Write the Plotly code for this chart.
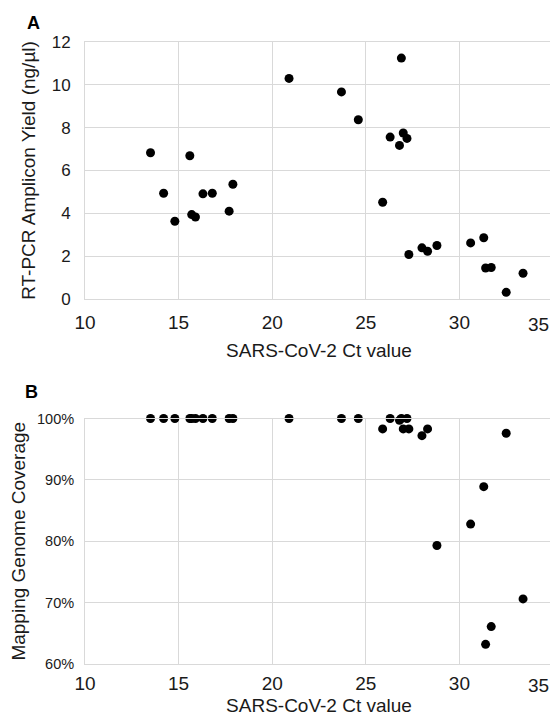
import plotly.graph_objects as go

ct_values = [13.5, 14.2, 14.8, 15.6, 15.7, 15.9, 16.3, 16.8, 17.7, 17.9, 20.9,
             26.9, 23.7, 24.6, 26.3, 27.0, 27.2, 26.8, 25.9, 27.3, 28.0, 28.3,
             28.8, 30.6, 31.3, 31.4, 31.7, 33.4, 32.5]
amplicon_yield = [6.83, 4.94, 3.63, 6.69, 3.94, 3.83, 4.91, 4.94, 4.10, 5.36, 10.30,
                  11.25, 9.67, 8.37, 7.56, 7.75, 7.50, 7.17, 4.52, 2.08, 2.39, 2.23,
                  2.50, 2.62, 2.86, 1.45, 1.47, 1.20, 0.31]
genome_coverage = [1.0, 1.0, 1.0, 1.0, 1.0, 1.0, 1.0, 1.0, 1.0, 1.0, 1.0,
                   1.0, 1.0, 1.0, 1.0, 0.983, 1.0, 0.997, 0.983, 0.983, 0.972, 0.983,
                   0.793, 0.828, 0.889, 0.632, 0.661, 0.706, 0.976]

x_tick_vals = [10, 15, 20, 25, 30, 35]
x_tick_labels = ["10", "15", "20", "25", "30", "35"]
x_title = "SARS-CoV-2 Ct value"
y_title_a = "RT-PCR Amplicon Yield (ng/µl)"
y_title_b = "Mapping Genome Coverage"

FONT = "Liberation Sans, Arial, sans-serif"
GRID = "#d9d9d9"
TXT = "#1a1a1a"

# the page body has an 8px default margin, so the figure starts at (8, 8);
# keep the page within the window so no scrollbar appears
OFF = 8
W, H = 558 - OFF, 724 - 2 * OFF
L, R, T = 85 - OFF, 5, 42 - OFF
B = H - (664 - OFF)
pw, ph = W - L - R, H - T - B


def yfrac(py):
    """screen pixel y -> paper fraction"""
    return (H - B - (py - OFF)) / ph


def xfrac(px):
    return (px - OFF - L) / pw


fig = go.Figure()
marker = dict(color="black", size=9)
fig.add_trace(go.Scatter(x=ct_values, y=amplicon_yield, mode="markers", marker=marker,
                         xaxis="x", yaxis="y", cliponaxis=False, showlegend=False))
fig.add_trace(go.Scatter(x=ct_values, y=genome_coverage, mode="markers", marker=marker,
                         xaxis="x2", yaxis="y2", cliponaxis=False, showlegend=False))

# the last label ("35") is drawn shifted inward, like the original, to stay inside the page
axis_ticktext = x_tick_labels[:-1] + [""]
xcommon = dict(range=[10, 35], tickmode="array", tickvals=x_tick_vals, ticktext=axis_ticktext,
               showgrid=True, gridcolor=GRID, gridwidth=1, automargin=False,
               zeroline=False, showline=True, linecolor=GRID, mirror=True,
               ticks="", tickfont=dict(size=19, color=TXT))
ycommon = dict(showgrid=True, gridcolor=GRID, gridwidth=1, zeroline=False, automargin=False,
               showline=True, linecolor=GRID, mirror=True, ticks="")

fig.update_layout(
    width=W, height=H,
    margin=dict(l=L, r=R, t=T, b=B),
    paper_bgcolor="white", plot_bgcolor="white",
    font=dict(family=FONT, color=TXT),
    xaxis=dict(domain=[0, 1], anchor="y", ticklabelstandoff=6,
               title=dict(text=x_title, font=dict(size=19, color=TXT), standoff=11),
               **xcommon),
    yaxis=dict(domain=[yfrac(299), 1.0], anchor="x", range=[0, 12], dtick=2,
               ticklabelstandoff=10, tickfont=dict(size=17, color=TXT),
               title=dict(text=y_title_a, font=dict(size=19, color=TXT), standoff=11),
               **ycommon),
    xaxis2=dict(domain=[0, 1], anchor="y2", ticklabelstandoff=2,
                title=dict(text=x_title, font=dict(size=19, color=TXT), standoff=9),
                **xcommon),
    yaxis2=dict(domain=[0, yfrac(418.5)], anchor="x2", range=[0.6, 1.0], dtick=0.1,
                tickformat=".0%", ticklabelstandoff=7, tickfont=dict(size=14.5, color=TXT),
                title=dict(text=y_title_b, font=dict(size=19, color=TXT), standoff=6),
                **ycommon),
)

fig.add_annotation(text="<b>A</b>", x=xfrac(33), y=yfrac(23.5), xref="paper", yref="paper",
                   xanchor="center", yanchor="middle", showarrow=False,
                   font=dict(size=18, color="black"))
fig.add_annotation(text="<b>B</b>", x=xfrac(31.5), y=yfrac(391.5), xref="paper", yref="paper",
                   xanchor="center", yanchor="middle", showarrow=False,
                   font=dict(size=18, color="black"))
# last x tick label for each panel, right-aligned near the axis end
for xr, ypx, ysh in (("x", 299, -13), ("x2", 664, -9)):
    fig.add_annotation(text=x_tick_labels[-1], x=x_tick_vals[-1], xref=xr,
                       y=yfrac(ypx), yref="paper", xanchor="right", yanchor="top",
                       xshift=-2, yshift=ysh, showarrow=False,
                       font=dict(size=19, color=TXT))

fig.write_html("out.html")
